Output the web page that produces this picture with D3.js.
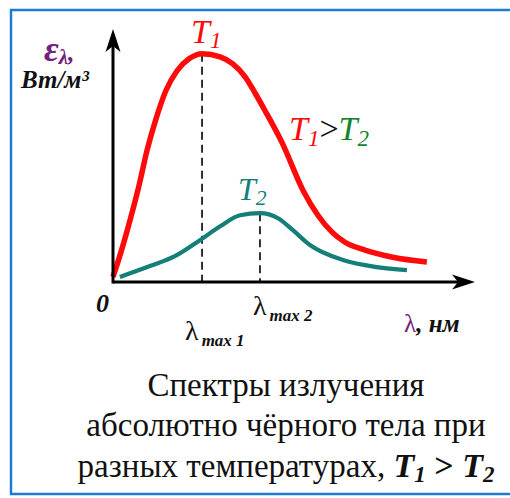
<!DOCTYPE html>
<html><head><meta charset="utf-8">
<script src="https://cdn.jsdelivr.net/npm/d3@7"></script>
</head><body>
<script>
// wavelength (arbitrary units) and spectral density (arbitrary units)
const lambdaT1 = [0, 0.22, 0.47, 0.72, 0.94, 1.19, 1.46, 1.77, 2.10, 2.46, 2.96, 3.31, 3.65, 3.92, 4.20, 4.67, 5.25, 5.66, 6.05, 6.41, 6.96, 7.73, 8.67];
const epsT1    = [0.20, 1.18, 2.44, 3.82, 5.20, 6.46, 7.56, 8.35, 8.82, 9.02, 8.90, 8.62, 8.11, 7.48, 6.77, 5.51, 3.62, 2.64, 1.97, 1.57, 1.26, 0.98, 0.79];
const lambdaT2 = [0.19, 1.02, 1.71, 2.40, 2.96, 3.51, 4.06, 4.56, 4.97, 5.44, 6.35, 7.29, 8.12];
const epsT2    = [0.20, 0.63, 1.02, 1.65, 2.20, 2.64, 2.72, 2.52, 2.05, 1.46, 0.87, 0.59, 0.47];
const lambdaMax = [2.46, 4.06];
const peakEps   = [9.02, 2.72];
const seriesColors = ["#ff0a0a", "#137f78"];

d3.select("body").style("margin", "0").style("padding", "0").style("background", "#fff");
const FAM = "'Liberation Serif', Tinos, 'Times New Roman', serif";
const W = 510, H = 498;
const svg = d3.select("body").append("svg").attr("width", W).attr("height", H)
  .style("display", "block");
svg.append("style").text("svg text, svg tspan { font-family: 'Liberation Serif', Tinos, 'Times New Roman', serif !important; }");

svg.append("rect").attr("x", 11).attr("y", 10).attr("width", 520).attr("height", 484)
  .attr("fill", "none").attr("stroke", "#1c7bd3").attr("stroke-width", 2.5);

const x = d3.scaleLinear().domain([0, 10]).range([113, 475]);
const y = d3.scaleLinear().domain([0, 10]).range([282, 29]);

lambdaMax.forEach((lm, i) => {
  svg.append("line").attr("x1", x(lm)).attr("x2", x(lm))
    .attr("y1", y(peakEps[i])).attr("y2", y(0))
    .attr("stroke", "#000").attr("stroke-width", 1.6).attr("stroke-dasharray", "8,5");
});

const line = d3.line().x(d => x(d[0])).y(d => y(d[1])).curve(d3.curveMonotoneX);
const d1 = lambdaT1.map((l, i) => [l, epsT1[i]]);
const d2 = lambdaT2.map((l, i) => [l, epsT2[i]]);
svg.append("path").datum(d2).attr("d", line).attr("fill", "none")
  .attr("stroke", seriesColors[1]).attr("stroke-width", 4.2);
svg.append("path").datum(d1).attr("d", line).attr("fill", "none")
  .attr("stroke", seriesColors[0]).attr("stroke-width", 5.5);

svg.append("line").attr("x1", x(0)).attr("x2", x(10) - 12).attr("y1", y(0)).attr("y2", y(0))
  .attr("stroke", "#000").attr("stroke-width", 3);
svg.append("line").attr("x1", x(0)).attr("x2", x(0)).attr("y1", y(0) + 1.5).attr("y2", y(10) + 12)
  .attr("stroke", "#000").attr("stroke-width", 3);
const arrow = "M0,0 L-7.5,23 L0,17 L7.5,23 Z";
svg.append("path").attr("d", arrow).attr("fill", "#000")
  .attr("transform", `translate(${x(0)},${y(10)})`);
svg.append("path").attr("d", arrow).attr("fill", "#000")
  .attr("transform", `translate(${x(10)},${y(0)}) rotate(90)`);

function txt(xp, yp, size) {
  return svg.append("text").attr("x", xp).attr("y", yp).attr("font-size", size)
    .attr("font-family", FAM).style("font-family", FAM);
}

const purple = "#74207e";
const ey = txt(44, 61, 36).attr("fill", purple).attr("font-weight", "bold").attr("font-style", "italic");
ey.append("tspan").text("ε");
ey.append("tspan").attr("font-size", 21).attr("dy", 3).text("λ");
ey.append("tspan").attr("font-size", 26).attr("dy", -3).text(",");
txt(21, 88, 25).attr("font-weight", "bold").attr("font-style", "italic").attr("fill", "#111").text("Вт/м³");

txt(96, 312, 26).attr("font-weight", "bold").attr("font-style", "italic").attr("fill", "#111").text("0");

function tlabel(xpos, ypos, color, sub, size) {
  const t = txt(xpos, ypos, size).attr("fill", color).attr("font-style", "italic");
  t.append("tspan").text("T");
  t.append("tspan").attr("font-size", size * 0.68).attr("dy", 5).text(sub);
}
tlabel(x(lambdaMax[0]) - 11, 43, seriesColors[0], "1", 34);
tlabel(x(lambdaMax[1]) - 22, 200, seriesColors[1], "2", 32);

const cmp = txt(289, 140, 34).attr("font-style", "italic");
cmp.append("tspan").attr("fill", seriesColors[0]).text("T");
cmp.append("tspan").attr("fill", seriesColors[0]).attr("font-size", 23).attr("dy", 6).text("1");
cmp.append("tspan").attr("fill", "#111").attr("font-style", "normal").attr("dy", -6).text(">");
cmp.append("tspan").attr("fill", "#10862a").text("T");
cmp.append("tspan").attr("fill", "#10862a").attr("font-size", 23).attr("dy", 6).text("2");

function lmLabel(xpos, ypos, sub) {
  const t = txt(xpos, ypos, 28).attr("fill", "#111");
  t.append("tspan").text("λ");
  t.append("tspan").attr("font-size", 17).attr("font-weight", "bold").attr("font-style", "italic")
    .attr("dx", 3).attr("dy", 6).text(sub);
}
lmLabel(x(lambdaMax[0]) - 17, 340, "max 1");
lmLabel(x(lambdaMax[1]) - 7, 315, "max 2");

const xl = txt(404, 332, 25).attr("font-weight", "bold").attr("font-style", "italic");
xl.append("tspan").attr("fill", purple).attr("font-weight", "normal").attr("font-style", "normal").text("λ");
xl.append("tspan").attr("fill", "#111").text(", нм");

const cx = 286;
txt(cx, 396, 33).attr("fill", "#111").attr("text-anchor", "middle").text("Спектры излучения");
txt(cx, 436, 33).attr("fill", "#111").attr("text-anchor", "middle").text("абсолютно чёрного тела при");
const l3 = txt(cx, 477, 33).attr("fill", "#111").attr("text-anchor", "middle");
l3.append("tspan").text("разных температурах, ");
l3.append("tspan").attr("font-weight", "bold").attr("font-style", "italic").attr("font-size", 34).text("T");
l3.append("tspan").attr("font-weight", "bold").attr("font-style", "italic").attr("font-size", 23).attr("dy", 5).text("1");
l3.append("tspan").attr("font-weight", "bold").attr("font-size", 34).attr("dy", -5).text(" > ");
l3.append("tspan").attr("font-weight", "bold").attr("font-style", "italic").attr("font-size", 34).text("T");
l3.append("tspan").attr("font-weight", "bold").attr("font-style", "italic").attr("font-size", 23).attr("dy", 5).text("2");
</script>
</body></html>
